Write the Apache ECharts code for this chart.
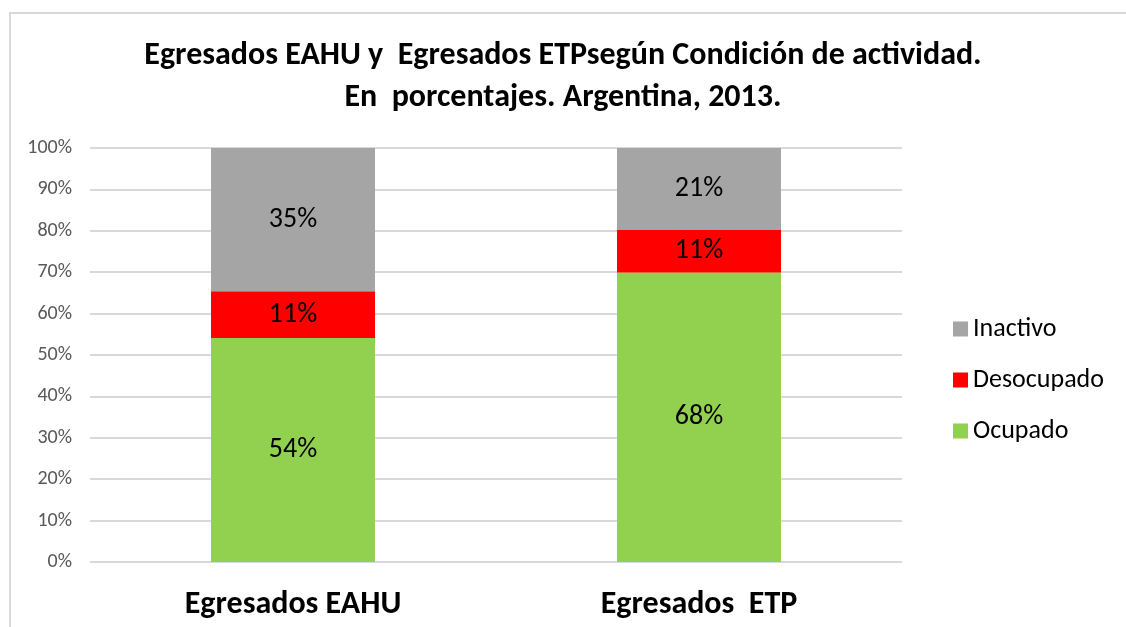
<!DOCTYPE html>
<html>
<head>
<meta charset="utf-8">
<script src="https://cdn.jsdelivr.net/npm/echarts@6/dist/echarts.min.js"></script>
<style>
html,body{margin:0;padding:0;background:#fff;}
#chart{width:1126px;height:627px;}
</style>
</head>
<body>
<div id="chart"></div>
<script>
// Categories
const categories = ['Egresados EAHU', 'Egresados  ETP'];
// Segment heights (percent of total)
const ocupado = [54.1, 69.9];
const desocupado = [11.3, 10.3];
const inactivo = [34.6, 19.8];
// Printed data labels
const ocupadoLabels = ['54%', '68%'];
const desocupadoLabels = ['11%', '11%'];
const inactivoLabels = ['35%', '21%'];
// Y tick labels
const yTicks = [0, 10, 20, 30, 40, 50, 60, 70, 80, 90, 100];
// Title lines
const titleLines = ['Egresados EAHU y  Egresados ETPsegún Condición de actividad.', 'En  porcentajes. Argentina, 2013.'];

const FONT = "Carlito, 'Liberation Sans Narrow', 'DejaVu Sans Condensed', sans-serif";

const chart = echarts.init(document.getElementById('chart'), null, {renderer: 'canvas'});

function seriesOf(name, data, labels, color) {
  return {
    name: name,
    type: 'bar',
    stack: 'total',
    data: data,
    barWidth: 164,
    itemStyle: {color: color},
    label: {
      show: true,
      position: 'inside',
      fontFamily: FONT,
      fontSize: 28,
      color: '#000',
      formatter: p => labels[p.dataIndex]
    },
    emphasis: {disabled: true}
  };
}

const titleStyle = {fontFamily: FONT, fontWeight: 'bold', fontSize: 32, color: '#000'};

chart.setOption({
  animation: false,
  backgroundColor: '#fff',
  title: [
    {text: titleLines[0], left: 'center', top: 35, textStyle: titleStyle},
    {text: titleLines[1], left: 'center', top: 77, textStyle: titleStyle}
  ],
  graphic: [{
    type: 'rect',
    shape: {x: 10, y: 13, width: 1140, height: 700},
    style: {fill: 'none', stroke: '#d9d9d9', lineWidth: 2},
    silent: true
  }],
  legend: {
    orient: 'vertical',
    left: 948,
    top: 311,
    itemWidth: 15,
    itemHeight: 15,
    itemGap: 25,
    icon: 'rect',
    data: ['Inactivo', 'Desocupado', 'Ocupado'],
    textStyle: {fontFamily: FONT, fontSize: 26, color: '#000'},
    selectedMode: false
  },
  grid: {left: 90, right: 224, top: 148, bottom: 65, containLabel: false},
  xAxis: {
    type: 'category',
    data: categories,
    axisLine: {show: false},
    axisTick: {show: false},
    axisLabel: {fontFamily: FONT, fontWeight: 'bold', fontSize: 32, color: '#000', margin: 27}
  },
  yAxis: {
    type: 'value',
    min: 0,
    max: 100,
    interval: 10,
    axisLine: {show: false},
    axisTick: {show: false},
    splitLine: {lineStyle: {color: '#d9d9d9', width: 2}},
    axisLabel: {
      fontFamily: FONT,
      fontSize: 20,
      color: '#595959',
      margin: 18,
      formatter: v => (yTicks.indexOf(v) >= 0 ? v + '%' : '')
    }
  },
  series: [
    seriesOf('Ocupado', ocupado, ocupadoLabels, '#92d050'),
    seriesOf('Desocupado', desocupado, desocupadoLabels, '#ff0000'),
    seriesOf('Inactivo', inactivo, inactivoLabels, '#a5a5a5')
  ]
});
</script>
</body>
</html>
